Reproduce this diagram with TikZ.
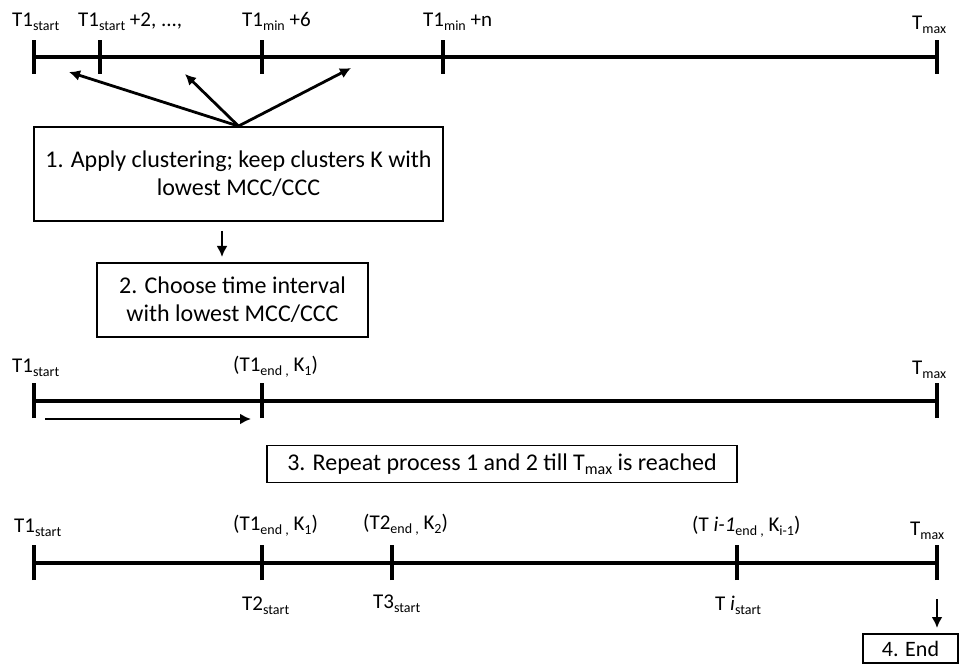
\documentclass[tikz,border=0pt]{standalone}
\usepackage{fontspec}
\setmainfont{Carlito}
\usetikzlibrary{arrows.meta}
\newcommand\lo[1]{\raisebox{-4pt}{\fontsize{14}{14}\selectfont #1}}
\newcommand\loB[1]{\raisebox{-4.5pt}{\fontsize{16}{16}\selectfont #1}}
\begin{document}
\begin{tikzpicture}[x=1pt,y=-1pt,
  tline/.style={line width=3.4pt},
  tickmark/.style={line width=3.4pt},
  lbl/.style={font=\fontsize{21}{26}\selectfont, inner sep=0pt, anchor=base west},
  box/.style={draw, line width=1.8pt, align=center, inner sep=0pt, font=\fontsize{24}{28}\selectfont},
  arr/.style={line width=2.8pt, -{Latex[length=11pt,width=11pt]}}]
\useasboundingbox (0,0) rectangle (963,668);

% ---------- timeline 1 ----------
\coordinate (a0) at (34,57);
\coordinate (a1) at (100,57);
\coordinate (a2) at (262,57);
\coordinate (a3) at (443,57);
\coordinate (a4) at (937,57);
\draw[tline] (a0) -- (a4);
\foreach \c in {a0,a1,a2,a3,a4} \draw[tickmark] ([yshift=-17pt]\c) -- ([yshift=17pt]\c);
\node[lbl] (l1) at (12,27) {T1\lo{start}};
\node[lbl] (l2) at (78,27) {T1\lo{start} +2, ...,};
\node[lbl] (l3) at (242,27) {T1\lo{min} +6};
\node[lbl] (l4) at (423,27) {T1\lo{min} +n};
\node[lbl] (l5) at (912,30) {T\lo{max}};

% arrow targets
\coordinate (t1) at (69,72);
\coordinate (t2) at (185,74);
\coordinate (t3) at (351,68);

% ---------- box 1 ----------
\node[box, minimum width=409pt, minimum height=94pt] (b1) at (238.5,174)
  {1. Apply clustering; keep clusters K with\\lowest MCC/CCC};
\draw[arr] (b1.north) -- (t1);
\draw[arr] (b1.north) -- (t2);
\draw[arr] (b1.north) -- (t3);

% ---------- box 2 ----------
\node[box, minimum width=271pt, minimum height=74pt] (b2) at (232.5,300)
  {2. Choose time interval\\with lowest MCC/CCC};
\coordinate (d1) at (222,231);
\draw[arr] (d1) -- (222,257);

% ---------- timeline 2 ----------
\coordinate (c0) at (34,401);
\coordinate (c1) at (262,401);
\coordinate (c2) at (937,401);
\draw[tline] (c0) -- (c2);
\foreach \c in {c0,c1,c2} \draw[tickmark] ([yshift=-17pt]\c) -- ([yshift=18pt]\c);
\node[lbl] (m1) at (12,372) {T1\lo{start}};
\node[lbl] (m2) at (233,371) {(T1\lo{end ,} K\lo{1})};
\node[lbl] (m3) at (912,374) {T\lo{max}};
\coordinate (p0) at (45,419);
\coordinate (p1) at (251,419);
\draw[arr] (p0) -- (p1);

% ---------- box 3 ----------
\node[box, minimum width=470pt, minimum height=37pt] (b3) at (502,464)
  {3. Repeat process 1 and 2 till T\loB{max} is reached};

% ---------- timeline 3 ----------
\coordinate (e0) at (34,563);
\coordinate (e1) at (262,563);
\coordinate (e2) at (392,563);
\coordinate (e3) at (737,563);
\coordinate (e4) at (937,563);
\draw[tline] (e0) -- (e4);
\foreach \c in {e0,e1,e2,e3,e4} \draw[tickmark] ([yshift=-17pt]\c) -- ([yshift=18pt]\c);
\node[lbl] (n1) at (14,532) {T1\lo{start}};
\node[lbl] (n2) at (233,530) {(T1\lo{end ,} K\lo{1})};
\node[lbl] (n3) at (363,529) {(T2\lo{end ,} K\lo{2})};
\node[lbl] (n4) at (692,531) {(T \textit{i-1}\lo{end ,} K\lo{i-1})};
\node[lbl] (n5) at (910,535) {T\lo{max}};
\node[lbl] (s2) at (242,610) {T2\lo{start}};
\node[lbl] (s3) at (373,608) {T3\lo{start}};
\node[lbl] (si) at (715,610) {T \textit{i}\lo{start}};

% ---------- box 4 ----------
\node[box, minimum width=95pt, minimum height=29pt, font=\fontsize{22}{26}\selectfont] (b4) at (910.5,648.5) {4. End};
\coordinate (d2) at (937,599);
\draw[arr] (d2) -- (937,628);
\end{tikzpicture}
\end{document}
